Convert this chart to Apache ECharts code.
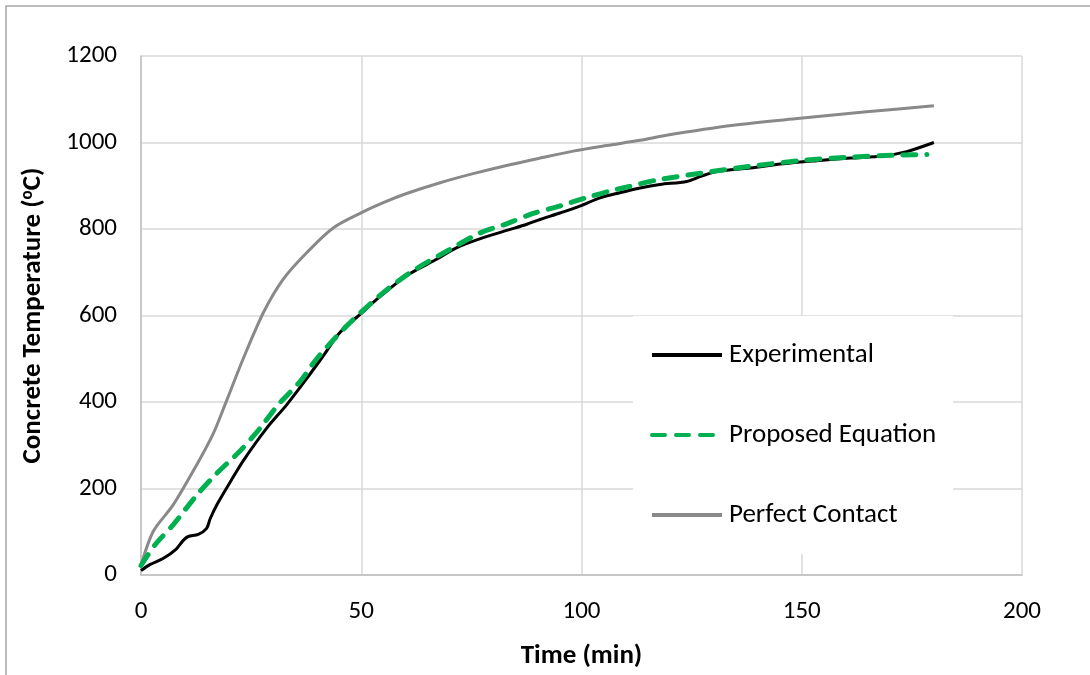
<!DOCTYPE html>
<html>
<head>
<meta charset="utf-8">
<script src="https://cdn.jsdelivr.net/npm/echarts@6/dist/echarts.min.js"></script>
<style>
html,body{margin:0;padding:0;background:#fff;overflow:hidden;}
#chart{width:1090px;height:675px;}
</style>
</head>
<body>
<div id="chart"></div>
<script>
// Time (min), Temperature (°C) pairs
const experimental = [
  [0, 10], [2, 24], [5, 38], [8, 60], [9.6, 80], [10.7, 89], [13, 94], [14.9, 108], [15.7, 130],
  [17.2, 162], [20.2, 214], [23.2, 264], [28.5, 339], [33.1, 394], [37.6, 454], [41.4, 507],
  [45.2, 561], [50, 605], [54.3, 644], [60.3, 692], [67.1, 730], [71.7, 757], [77.7, 780],
  [83.8, 799], [87.6, 811], [90.6, 822], [95.1, 837], [99.6, 853], [104.2, 872], [108.7, 884],
  [113.3, 895], [117.8, 903], [123.9, 910], [126.9, 921], [130.7, 933], [138.3, 941],
  [145.8, 951], [153.4, 958], [161, 964], [168.5, 969], [173.8, 979], [180, 1000]
];
const proposed = [
  [0, 22], [3.2, 70], [7.3, 116], [12.6, 184], [17.2, 235], [22.5, 287], [27, 339], [31, 392],
  [36, 446], [39.9, 500], [46.7, 576], [55, 653], [62, 705], [70, 752], [77, 791], [83, 812],
  [89, 836], [95, 853], [101, 872], [106.5, 888], [110.3, 897], [117, 913], [127, 929],
  [138.3, 945], [149.6, 958], [161, 966], [172.3, 971], [178.4, 972]
];
const perfect = [
  [0, 22], [2.8, 101], [7.3, 162], [12.6, 254], [16.4, 327], [19.5, 405], [23.2, 500],
  [27.8, 607], [32.3, 684], [37.6, 745], [43.7, 803], [50.5, 840], [55, 861], [60.3, 882],
  [67.9, 907], [75.4, 928], [83, 947], [90.6, 964], [98.1, 980], [105.7, 993], [113.3, 1005],
  [119.3, 1017], [134.5, 1040], [149.6, 1056], [164.7, 1071], [180, 1085]
];
const seriesNames = ['Experimental', 'Proposed Equation', 'Perfect Contact'];
const xTicks = [0, 50, 100, 150, 200];
const yTicks = [0, 200, 400, 600, 800, 1000, 1200];

const FONT = 'Carlito, Calibri, Lato, sans-serif';
const chart = echarts.init(document.getElementById('chart'), null, {renderer: 'canvas'});
chart.setOption({
  backgroundColor: '#fff',
  animation: false,
  graphic: [{
    type: 'polyline', z: 100, silent: true,
    shape: {points: [[6, 700], [6, 6], [1120, 6]]},
    style: {fill: 'none', stroke: '#a6a6a6', lineWidth: 1.5}
  }],
  grid: {left: 141, right: 68, top: 56, bottom: 98, containLabel: false},
  legend: {
    orient: 'vertical',
    left: 633, top: 316,
    data: seriesNames,
    backgroundColor: '#fff',
    padding: [25, 17, 25, 17],
    itemWidth: 70, itemHeight: 28, itemGap: 52,
    itemStyle: {opacity: 0},
    lineStyle: {width: 4},
    textStyle: {fontFamily: FONT, fontSize: 27, color: '#000', lineHeight: 28, padding: [0, 0, 0, 2]},
    z: 10
  },
  xAxis: {
    type: 'value', min: 0, max: 200, interval: 50,
    name: 'Time (min)', nameLocation: 'middle', nameGap: 68,
    nameTextStyle: {fontFamily: FONT, fontSize: 27, fontWeight: 'bold', color: '#000'},
    axisLine: {show: true, lineStyle: {color: '#bfbfbf', width: 1.5}},
    axisTick: {show: false},
    axisLabel: {fontFamily: FONT, fontSize: 25, color: '#000', margin: 24,
      formatter: v => xTicks.includes(v) ? String(v) : ''},
    splitLine: {show: true, lineStyle: {color: '#d9d9d9', width: 1.5}}
  },
  yAxis: {
    type: 'value', min: 0, max: 1200, interval: 200,
    name: '{a|Concrete Temperature (}{s|o}{a|C)}', nameLocation: 'middle', nameGap: 94,
    nameTextStyle: {
      rich: {
        a: {fontFamily: FONT, fontSize: 27, fontWeight: 'bold', color: '#000'},
        s: {fontFamily: FONT, fontSize: 17, fontWeight: 'bold', color: '#000', padding: [0, 0, 11, 0]}
      }
    },
    axisLine: {show: true, lineStyle: {color: '#bfbfbf', width: 1.5}},
    axisTick: {show: false},
    axisLabel: {fontFamily: FONT, fontSize: 25, color: '#000', margin: 24,
      formatter: v => yTicks.includes(v) ? String(v) : ''},
    splitLine: {show: true, lineStyle: {color: '#d9d9d9', width: 1.5}}
  },
  series: [
    {
      name: seriesNames[2], type: 'line', data: perfect, smooth: 0.3, symbol: 'none',
      lineStyle: {color: '#898989', width: 3}, itemStyle: {color: '#898989'}, z: 2
    },
    {
      name: seriesNames[0], type: 'line', data: experimental, smooth: 0.3, symbol: 'none',
      lineStyle: {color: '#000', width: 3}, itemStyle: {color: '#000'}, z: 3
    },
    {
      name: seriesNames[1], type: 'line', data: proposed, smooth: 0.3, symbol: 'none',
      lineStyle: {color: '#00b050', width: 5, type: [13, 11], cap: 'round'}, itemStyle: {color: '#00b050'}, z: 4
    }
  ]
});
</script>
</body>
</html>
